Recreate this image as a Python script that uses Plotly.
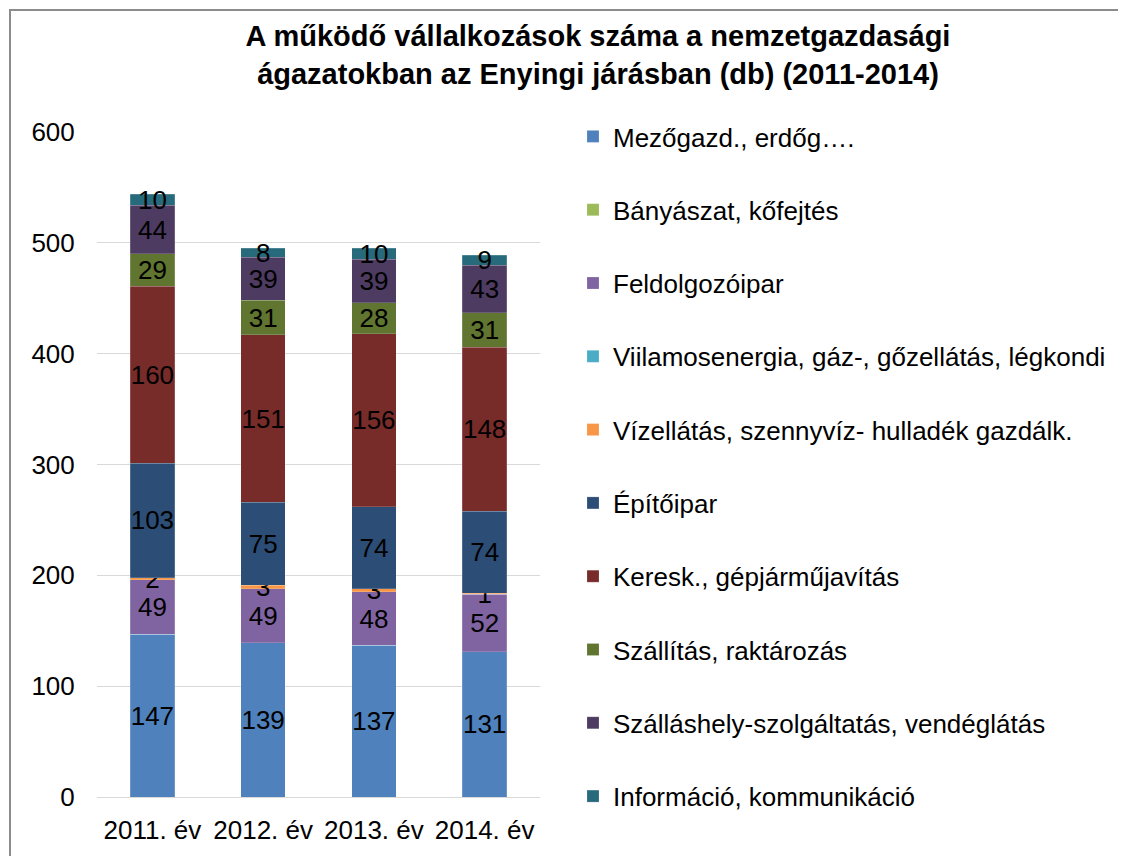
import plotly.graph_objects as go

categories = ["2011. év", "2012. év", "2013. év", "2014. év"]
series_names = [
    "Mezőgazd., erdőg….",
    "Bányászat, kőfejtés",
    "Feldolgozóipar",
    "Viilamosenergia, gáz-, gőzellátás, légkondi",
    "Vízellátás, szennyvíz- hulladék gazdálk.",
    "Építőipar",
    "Keresk., gépjárműjavítás",
    "Szállítás, raktározás",
    "Szálláshely-szolgáltatás, vendéglátás",
    "Információ, kommunikáció",
]
mezogazd = [147, 139, 137, 131]
banyaszat = [0, 0, 0, 0]
feldolgozo = [49, 49, 48, 52]
villamos = [0, 0, 0, 0]
vizellatas = [2, 3, 3, 1]
epitoipar = [103, 75, 74, 74]
keresk = [160, 151, 156, 148]
szallitas = [29, 31, 28, 31]
szallashely = [44, 39, 39, 43]
informacio = [10, 8, 10, 9]
series_values = [mezogazd, banyaszat, feldolgozo, villamos, vizellatas,
                 epitoipar, keresk, szallitas, szallashely, informacio]
colors = ["#4F81BD", "#9BBB59", "#8064A2", "#4BACC6", "#F79646",
          "#2C4D75", "#772C2A", "#5F7530", "#4D3B62", "#276A7C"]

FONT = "Liberation Sans, Arial, sans-serif"
FS = 26

fig = go.Figure()
for i, (name, vals, col) in enumerate(zip(series_names, series_values, colors)):
    fig.add_trace(go.Bar(
        x=categories, y=vals, name=name, legendgroup=f"g{i}",
        marker=dict(color=col, line=dict(color="rgba(255,255,255,0.35)", width=0.5)),
        text=[str(v) if v else "" for v in vals],
        textposition="inside", insidetextanchor="middle", textangle=0,
        constraintext="none", cliponaxis=False,
        textfont=dict(family=FONT, size=FS, color="black"),
        hoverinfo="skip",
    ))

OFF = 8  # page body margin
W, H = 1126, 856
# plot area in page pixels
PL, PR, PT, PB = 97, 540, 132, 797
L, R, T, B = PL - OFF, PR - OFF, PT - OFF, PB - OFF


def px_x(p):
    return (p - PL) / (PR - PL)


def px_y(p):
    return (PB - p) / (PB - PT)


fig.update_layout(
    width=W, height=H,
    barmode="stack", bargap=0.6,
    margin=dict(l=L, r=W - R, t=T, b=H - B, autoexpand=False),
    plot_bgcolor="white", paper_bgcolor="white",
    font=dict(family=FONT, size=FS, color="black"),
    title=dict(
        text="<b>A működő vállalkozások száma a nemzetgazdasági<br>ágazatokban az Enyingi járásban (db) (2011-2014)</b>",
        x=(598 - OFF) / W, xanchor="center", xref="container",
        y=1 - (46 - OFF) / H, yanchor="middle", yref="container",
        font=dict(family=FONT, size=29, color="black"),
    ),
    legend=dict(
        x=px_x(573), xanchor="left", y=px_y(113), yanchor="top",
        traceorder="grouped", tracegroupgap=36.5, maxheight=1,
        font=dict(family=FONT, size=FS, color="black"),
        bgcolor="rgba(0,0,0,0)", itemclick=False,
    ),
    shapes=[dict(type="rect", xref="paper", yref="paper",
                 x0=px_x(10), x1=px_x(1140), y0=px_y(880), y1=px_y(10),
                 line=dict(color="#8c8c8c", width=2), fillcolor="rgba(0,0,0,0)",
                 layer="below")],
)
fig.update_yaxes(range=[0, 600], dtick=100, showgrid=True, gridcolor="#d9d9d9",
                 gridwidth=1, zeroline=False, showline=False,
                 ticks="outside", ticklen=16, tickcolor="rgba(0,0,0,0)",
                 tickfont=dict(family=FONT, size=FS, color="black"))
fig.update_xaxes(showline=True, linecolor="#d9d9d9", linewidth=1,
                 ticks="outside", ticklen=10, tickcolor="rgba(0,0,0,0)",
                 tickfont=dict(family=FONT, size=FS, color="black"))

fig.write_html("out.html")
